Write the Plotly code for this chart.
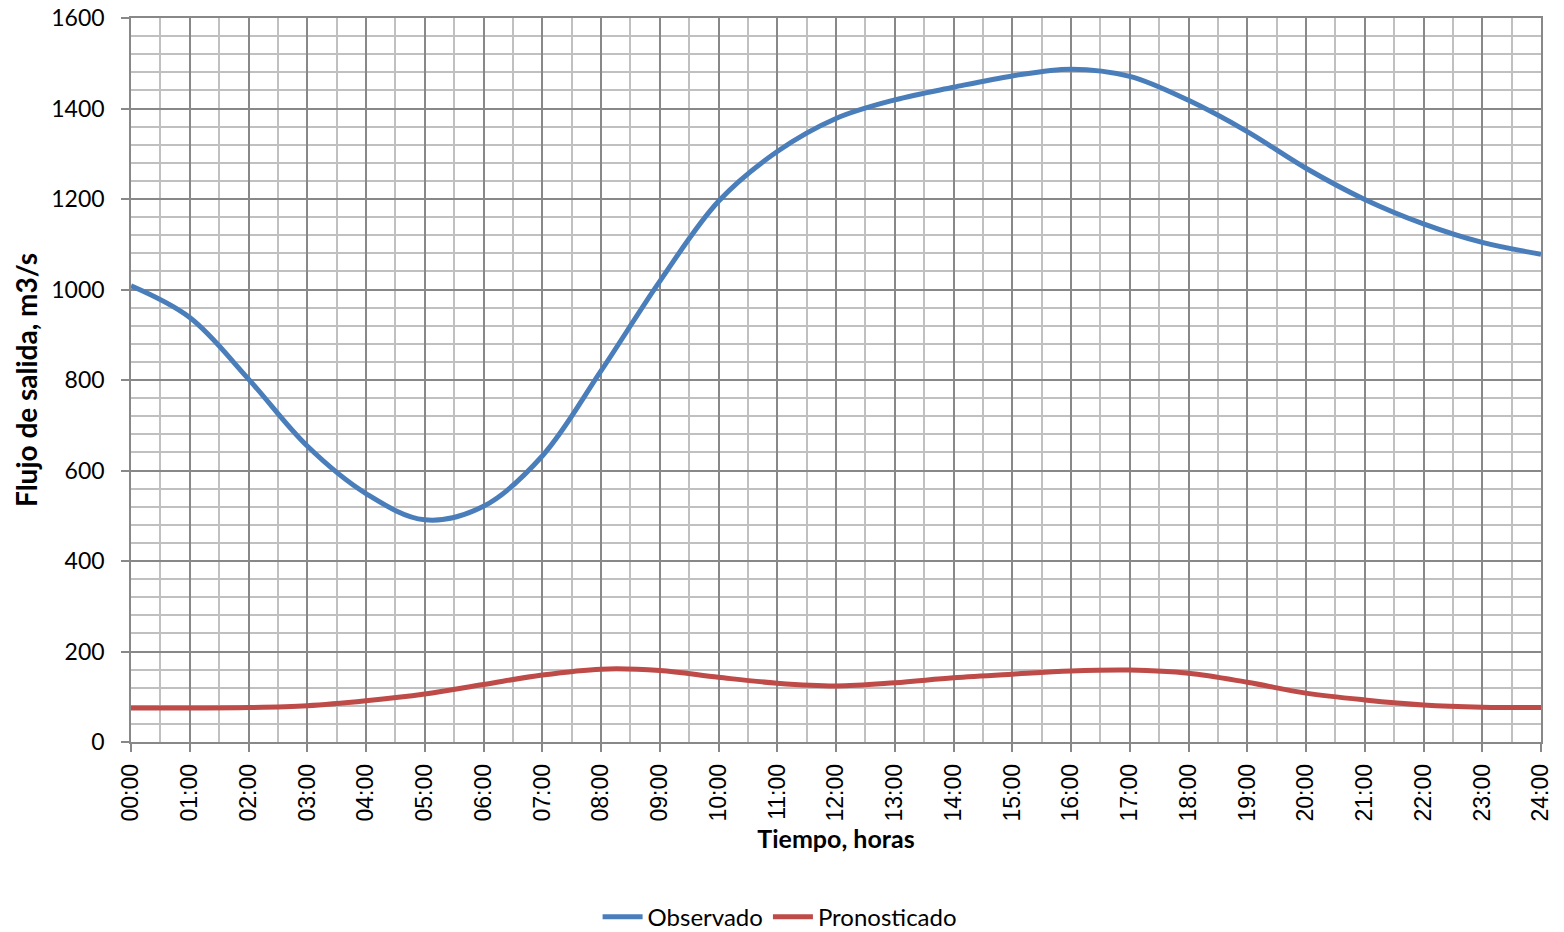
import plotly.graph_objects as go

# hourly readings, 00:00 .. 24:00
hours = list(range(25))
hour_labels = ['%02d:00' % h for h in hours]

observado = [1008, 938, 802, 654, 549, 491, 521, 632, 820, 1018, 1195, 1305,
             1378, 1419, 1447, 1472, 1487, 1471, 1418, 1349, 1268, 1199, 1145,
             1104, 1078]
pronosticado = [75, 75, 76, 80, 91, 106, 127, 148, 161, 158, 143, 130, 124,
                131, 142, 150, 157, 159, 152, 132, 108, 93, 82, 77, 76]

y_ticks = [0, 200, 400, 600, 800, 1000, 1200, 1400, 1600]

label_font = 'Lato, "Open Sans", sans-serif'

fig = go.Figure()
fig.add_trace(go.Scatter(
    x=hours, y=observado, name='Observado', mode='lines',
    line=dict(color='#4A7EBB', width=5, shape='spline', smoothing=1),
    cliponaxis=False
))
fig.add_trace(go.Scatter(
    x=hours, y=pronosticado, name='Pronosticado', mode='lines',
    line=dict(color='#BE4B48', width=5, shape='spline', smoothing=1),
    cliponaxis=False
))

fig.update_layout(
    width=1564, height=932,
    margin=dict(l=131, r=23, t=18, b=190, autoexpand=False),
    plot_bgcolor='white', paper_bgcolor='white',
    font=dict(family=label_font, size=23, color='black'),
    legend=dict(orientation='h', x=0.46, xanchor='center', y=-0.242,
                yanchor='middle', font=dict(size=24), itemwidth=40,
                traceorder='normal'),
)

fig.update_xaxes(
    range=[0, 24], tickmode='array', tickvals=hours, ticktext=hour_labels,
    tickangle=-90, tickfont=dict(family='"Liberation Sans", Arial', size=23),
    ticks='outside', ticklen=8, tickcolor='#888888', tickwidth=1.5,
    ticklabelstandoff=3, automargin=False, ticklabeloverflow='allow',
    showgrid=True, gridcolor='#888888', gridwidth=1.5,
    minor=dict(dtick=0.5, showgrid=True, gridcolor='#c0c0c0', gridwidth=1.5),
    showline=True, linecolor='#888888', linewidth=1.5, mirror=True,
    zeroline=False,
    title=dict(text='<b>Tiempo, horas</b>', font=dict(size=25), standoff=10),
)
fig.update_yaxes(
    range=[0, 1600], tickmode='array', tickvals=y_ticks,
    ticks='outside', ticklen=8, tickcolor='#888888', tickwidth=1.5,
    ticklabelstandoff=12, automargin=False, ticklabeloverflow='allow',
    showgrid=True, gridcolor='#888888', gridwidth=1.5,
    minor=dict(dtick=40, showgrid=True, gridcolor='#c0c0c0', gridwidth=1.5),
    showline=True, linecolor='#888888', linewidth=1.5, mirror=True,
    zeroline=False,
    title=dict(text='<b>Flujo de salida, m3/s</b>', font=dict(size=28), standoff=5),
)

# drop the default 8px page margin so the figure fills the window exactly
fig.write_html('out.html', config={'displayModeBar': False},
               post_script="document.body.style.margin='0';")
